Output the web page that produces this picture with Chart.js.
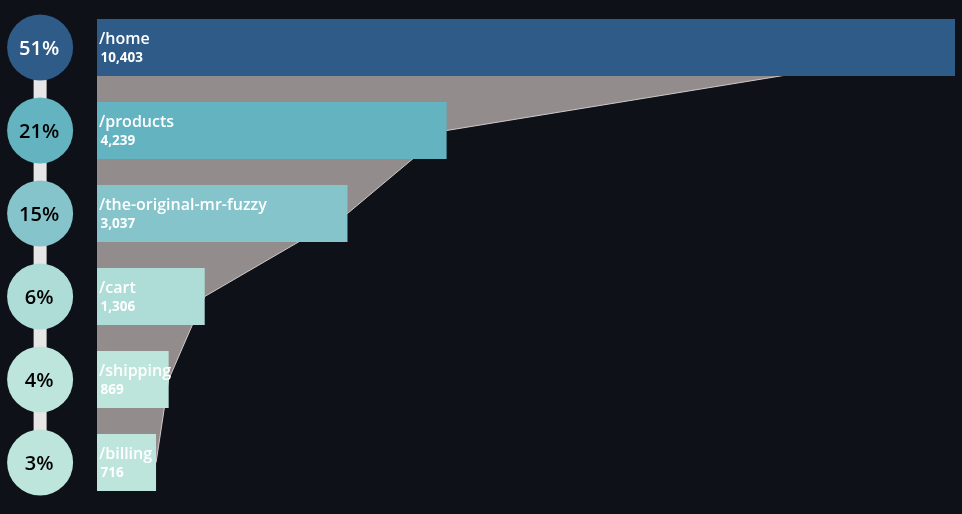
<!DOCTYPE html>
<html>
<head>
<meta charset="utf-8">
<script src="https://cdn.jsdelivr.net/npm/chart.js@4"></script>
<style>
  html, body { margin: 0; padding: 0; background: #0e1117; }
  #wrap { width: 962px; height: 514px; position: relative; }
</style>
</head>
<body>
<div id="wrap"><canvas id="funnel"></canvas></div>
<script>
const pages = ['/home', '/products', '/the-original-mr-fuzzy', '/cart', '/shipping', '/billing'];
const visits = [10403, 4239, 3037, 1306, 869, 716];
const stepColors = ['#2e5b88', '#63b3c1', '#84c4ca', '#aedcd6', '#bde5db', '#bde5db'];
const pctTextColors = ['#ffffff', '#000000', '#000000', '#000000', '#000000', '#000000'];

const total = visits.reduce((a, b) => a + b, 0);
const shares = visits.map(v => Math.round(v / total * 100) + '%');

// the chart area spans the whole width; the bars start 97px in,
// so the value axis gets a negative min leaving room for the circles
const maxVisits = visits[0];
const xMin = -maxVisits * 97 / 858;

// circles and their connector sit on their own 0..100 axis
const circleX = 4.2;
const circlePoints = pages.map(p => ({x: circleX, y: p}));

const labelPlugin = {
  id: 'funnelLabels',
  afterDatasetsDraw(chart) {
    const c = chart.ctx;
    const bars = chart.getDatasetMeta(0).data;
    const circles = chart.getDatasetMeta(2).data;
    c.save();
    c.textBaseline = 'middle';
    bars.forEach((bar, i) => {
      const left = Math.min(bar.x, bar.base);
      c.fillStyle = '#ffffff';
      c.textAlign = 'left';
      c.font = '600 16px "Open Sans"';
      c.fillText(pages[i], left + 2, bar.y - 8.5);
      c.font = '700 13.5px "Open Sans"';
      c.fillText(visits[i].toLocaleString('en-US'), left + 3.5, bar.y + 10.5);
    });
    circles.forEach((pt, i) => {
      c.fillStyle = pctTextColors[i];
      c.textAlign = 'center';
      c.font = '600 20px "Open Sans"';
      c.fillText(shares[i], pt.x - 1, pt.y + 1.5);
    });
    c.restore();
  }
};

new Chart(document.getElementById('funnel'), {
  type: 'bar',
  data: {
    labels: pages,
    datasets: [{
      type: 'bar',
      data: visits,
      backgroundColor: stepColors,
      borderWidth: 0,
      barPercentage: 0.687,
      categoryPercentage: 1,
      order: 1
    }, {
      type: 'line',
      data: visits,
      fill: 'origin',
      backgroundColor: '#928c8c',
      borderColor: '#cfcaca',
      borderWidth: 1,
      pointRadius: 0,
      tension: 0,
      order: 5
    }, {
      type: 'line',
      data: circlePoints,
      xAxisID: 'x2',
      showLine: false,
      pointRadius: 33,
      pointHoverRadius: 33,
      pointBackgroundColor: stepColors,
      pointBorderWidth: 0,
      clip: false,
      order: 2
    }, {
      type: 'line',
      data: circlePoints,
      xAxisID: 'x2',
      borderColor: '#e6e6e6',
      borderWidth: 13,
      pointRadius: 0,
      clip: false,
      order: 3
    }]
  },
  options: {
    indexAxis: 'y',
    responsive: true,
    maintainAspectRatio: false,
    animation: false,
    layout: { autoPadding: false, padding: { left: 0, right: 7, top: 6, bottom: 10 } },
    plugins: { legend: { display: false }, tooltip: { enabled: false } },
    scales: {
      x: { display: false, min: xMin, max: maxVisits },
      x2: { display: false, min: 0, max: 100 },
      y: { display: false }
    }
  },
  plugins: [labelPlugin]
});
</script>
</body>
</html>
